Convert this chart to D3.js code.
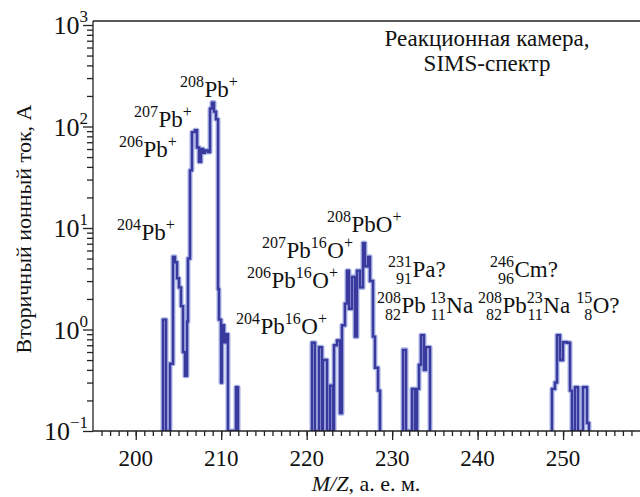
<!DOCTYPE html>
<html>
<head>
<meta charset="utf-8">
<script src="https://cdn.jsdelivr.net/npm/d3@7"></script>
</head>
<body style="margin:0;background:#fff">
<svg id="chart" width="640" height="497" style="display:block"></svg>
<script>
// Secondary ion current (A) against M/Z (a.m.u.), drawn as a step profile per cluster
const massPb = [203.07, 203.19, 203.54, 204.01, 204.36, 204.59, 204.83, 205.06, 205.30, 205.53, 205.76, 206.00,
  206.11, 206.35, 206.58, 206.93, 207.17, 207.40, 207.64, 207.87, 208.10, 208.46, 208.69, 208.92, 209.16, 209.39,
  209.63, 209.74, 209.98, 210.09, 210.33, 210.56, 210.79, 211.73, 211.97];
const currentPb = [0.1, 1.25, 0.1, 0.46, 5.2, 4.6, 3.2, 2.6, 1.7, 0.6, 0.35, 1.2,
  5.0, 37, 88, 92, 62, 45, 60, 55, 58, 56, 150, 172, 140, 118,
  2.5, 1.25, 0.3, 1.1, 0.75, 0.9, 0.1, 0.27, 0.1];

const massPbO = [220.51, 220.62, 220.97, 221.44, 221.79, 221.91, 222.38, 222.73, 223.08, 223.20, 223.55, 223.90,
  224.13, 224.48, 224.72, 224.95, 225.30, 225.65, 225.89, 226.24, 226.59, 226.82, 227.18, 227.41, 227.76, 227.99,
  228.35, 228.58];
const currentPbO = [0.1, 0.74, 0.1, 0.67, 0.1, 0.5, 0.1, 0.28, 0.1, 0.7, 0.78, 0.15,
  1.1, 1.8, 3.8, 1.6, 3.3, 0.85, 3.8, 2.6, 7.1, 4.2, 5.2, 3.0, 0.85, 0.42,
  0.25, 0.1];

const massPa = [231.15, 231.27, 231.62, 232.32, 232.67, 232.91, 233.14, 233.38, 233.73, 233.96, 234.43];
const currentPa = [0.1, 0.63, 0.1, 0.26, 0.1, 0.26, 0.45, 0.88, 0.4, 0.67, 0.1];

const massCm = [248.59, 248.70, 249.05, 249.29, 249.64, 249.99, 250.46, 250.81, 251.04, 251.39, 251.75, 252.33, 252.80, 253.03];
const currentCm = [0.1, 0.26, 0.3, 0.88, 0.5, 0.75, 0.74, 0.25, 0.1, 0.27, 0.1, 0.27, 0.12, 0.1];

const xMajorTicks = [200, 210, 220, 230, 240, 250];
const yDecades = [-1, 0, 1, 2, 3];

// Peak annotations: anchor (M/Z, current) of the left edge / baseline, and rich text runs
const peakLabels = [
  { m: 205.18, v: 195,  runs: [{ sup: "208" }, { n: "Pb" }, { sup: "+" }] },
  { m: 199.80, v: 98,   runs: [{ sup: "207" }, { n: "Pb" }, { sup: "+" }] },
  { m: 198.04, v: 50,   runs: [{ sup: "206" }, { n: "Pb" }, { sup: "+" }] },
  { m: 197.81, v: 7.6,  runs: [{ sup: "204" }, { n: "Pb" }, { sup: "+" }] },
  { m: 222.38, v: 9.1,  runs: [{ sup: "208" }, { n: "PbO" }, { sup: "+" }] },
  { m: 214.77, v: 5.06, runs: [{ sup: "207" }, { n: "Pb" }, { sup: "16" }, { n: "O" }, { sup: "+" }] },
  { m: 213.02, v: 2.56, runs: [{ sup: "206" }, { n: "Pb" }, { sup: "16" }, { n: "O" }, { sup: "+" }] },
  { m: 211.73, v: 0.90, runs: [{ sup: "204" }, { n: "Pb" }, { sup: "16" }, { n: "O" }, { sup: "+" }] },
  { m: 229.51, v: 3.29, runs: [{ sup: "231", sub: "91" }, { n: "Pa?" }] },
  { m: 241.45, v: 3.29, runs: [{ sup: "246", sub: "96" }, { n: "Cm?" }] },
  { m: 228.23, v: 1.45, runs: [{ sup: "208", sub: "82" }, { n: "Pb" }, { gap: 4 }, { sup: "13", sub: "11" }, { n: "Na" }] },
  { m: 240.05, v: 1.45, runs: [{ sup: "208", sub: "82" }, { n: "Pb" }, { sup: "23", sub: "11" }, { n: "Na" }, { gap: 6 }, { sup: "15", sub: "8" }, { n: "O?" }] }
];

const FONT = '"Liberation Serif", "Times New Roman", serif';
const W = 640, H = 497;
const left = 93, frameTop = 21, bottom = 431;

const svg = d3.select("#chart");

// every text node gets the serif face inline, as soon as it is created
function txt(parent) {
  return parent.append("text").style("font-family", FONT).attr("fill", "#111");
}

const x = d3.scaleLinear().domain([195, 259]).range([left, W]);
const y = d3.scaleLog().domain([0.1, 1000]).range([bottom, 25]);

// spectrum
const clusters = [
  d3.zip(massPb, currentPb),
  d3.zip(massPbO, currentPbO),
  d3.zip(massPa, currentPa),
  d3.zip(massCm, currentCm)
];
const line = d3.line()
  .x(d => x(d[0]))
  .y(d => y(Math.max(0.1, d[1])))
  .curve(d3.curveStepAfter);

const spec = svg.append("g");
spec.selectAll("path.halo").data(clusters).join("path")
  .attr("class", "halo")
  .attr("d", line)
  .attr("fill", "none")
  .attr("stroke", "#8a98dc")
  .attr("stroke-opacity", 0.75)
  .attr("stroke-width", 5)
  .attr("stroke-linejoin", "round");
spec.selectAll("path.core").data(clusters).join("path")
  .attr("class", "core")
  .attr("d", line)
  .attr("fill", "none")
  .attr("stroke", "#3a3a9e")
  .attr("stroke-width", 2.4);

// cover anything under the axis line
svg.append("rect").attr("x", left).attr("y", bottom).attr("width", W - left).attr("height", H - bottom).attr("fill", "#fff");

// frame
const frame = svg.append("g").attr("stroke", "#222").attr("stroke-width", 1.3);
frame.append("line").attr("x1", left).attr("x2", W).attr("y1", frameTop).attr("y2", frameTop);
frame.append("line").attr("x1", left).attr("x2", left).attr("y1", frameTop).attr("y2", bottom);
frame.append("line").attr("x1", left).attr("x2", W).attr("y1", bottom).attr("y2", bottom);

// x axis: minor ticks each unit, major every ten (labels added separately)
const xMinor = d3.axisBottom(x).tickValues(d3.range(196, 259)).tickSize(5).tickSizeOuter(0).tickFormat("");
const xMajor = d3.axisBottom(x).tickValues(xMajorTicks).tickSize(9).tickSizeOuter(0).tickFormat("");
[xMinor, xMajor].forEach(ax => {
  const g = svg.append("g").attr("transform", `translate(0,${bottom})`).call(ax);
  g.select(".domain").remove();
  g.selectAll("text").remove();
  g.selectAll("line").attr("stroke", "#222").attr("stroke-width", 1.3);
});
const xLab = svg.append("g");
xMajorTicks.forEach(v => {
  txt(xLab).attr("x", x(v)).attr("y", bottom + 35).attr("text-anchor", "middle")
    .attr("font-size", 23).text(d3.format("d")(v));
});

// y axis: minor ticks 2..9 per decade, major at powers of ten
const yMinorVals = [];
yDecades.slice(0, -1).forEach(k => { for (let i = 2; i <= 9; i++) yMinorVals.push(i * Math.pow(10, k)); });
const yMinor = d3.axisLeft(y).tickValues(yMinorVals).tickSize(6).tickSizeOuter(0).tickFormat("");
const yMajor = d3.axisLeft(y).tickValues(yDecades.map(k => Math.pow(10, k))).tickSize(10).tickSizeOuter(0).tickFormat("");
[yMinor, yMajor].forEach(ax => {
  const g = svg.append("g").attr("transform", `translate(${left},0)`).call(ax);
  g.select(".domain").remove();
  g.selectAll("text").remove();
  g.selectAll("line").attr("stroke", "#222").attr("stroke-width", 1.3);
});
const yLab = svg.append("g");
yDecades.forEach(k => {
  const t = txt(yLab).attr("x", 88).attr("y", y(Math.pow(10, k)) + 9)
    .attr("text-anchor", "end").attr("font-size", 26);
  t.append("tspan").text("10");
  t.append("tspan").attr("font-size", 17).attr("dy", -12).text(String(k).replace("-", "\u2212"));
});

// axis titles
txt(svg)
  .attr("transform", `translate(31,229) rotate(-90)`)
  .attr("text-anchor", "middle").attr("font-size", 22)
  .text("Вторичный ионный ток,  А");
const xt = txt(svg).attr("x", 366).attr("y", 491).attr("text-anchor", "middle").attr("font-size", 22);
xt.append("tspan").attr("font-style", "italic").text("M");
xt.append("tspan").attr("font-style", "italic").text("/");
xt.append("tspan").attr("font-style", "italic").text("Z");
xt.append("tspan").text(", а. е. м.");

// panel caption
txt(svg).attr("x", 487).attr("y", 46).attr("text-anchor", "middle")
  .attr("font-size", 23).text("Реакционная камера,");
txt(svg).attr("x", 487).attr("y", 71).attr("text-anchor", "middle")
  .attr("font-size", 23).text("SIMS-спектр");

// rich-text peak labels
const big = 23, small = 16;
const lab = svg.append("g");
peakLabels.forEach(L => {
  let cx = x(L.m);
  const by = y(L.v);
  L.runs.forEach(r => {
    if (r.gap) { cx += r.gap; return; }
    if (r.n) {
      const t = txt(lab).attr("x", cx).attr("y", by).attr("font-size", big).text(r.n);
      cx += t.node().getComputedTextLength();
      return;
    }
    const els = [];
    let w = 0;
    if (r.sup) {
      const t = txt(lab).attr("y", by - 10).attr("font-size", small)
        .attr("text-anchor", "end").text(r.sup);
      w = Math.max(w, t.node().getComputedTextLength()); els.push(t);
    }
    if (r.sub) {
      const t = txt(lab).attr("y", by + 7).attr("font-size", small)
        .attr("text-anchor", "end").text(r.sub);
      w = Math.max(w, t.node().getComputedTextLength()); els.push(t);
    }
    els.forEach(e => e.attr("x", cx + w));
    cx += w + 0.5;
  });
});
</script>
</body>
</html>
